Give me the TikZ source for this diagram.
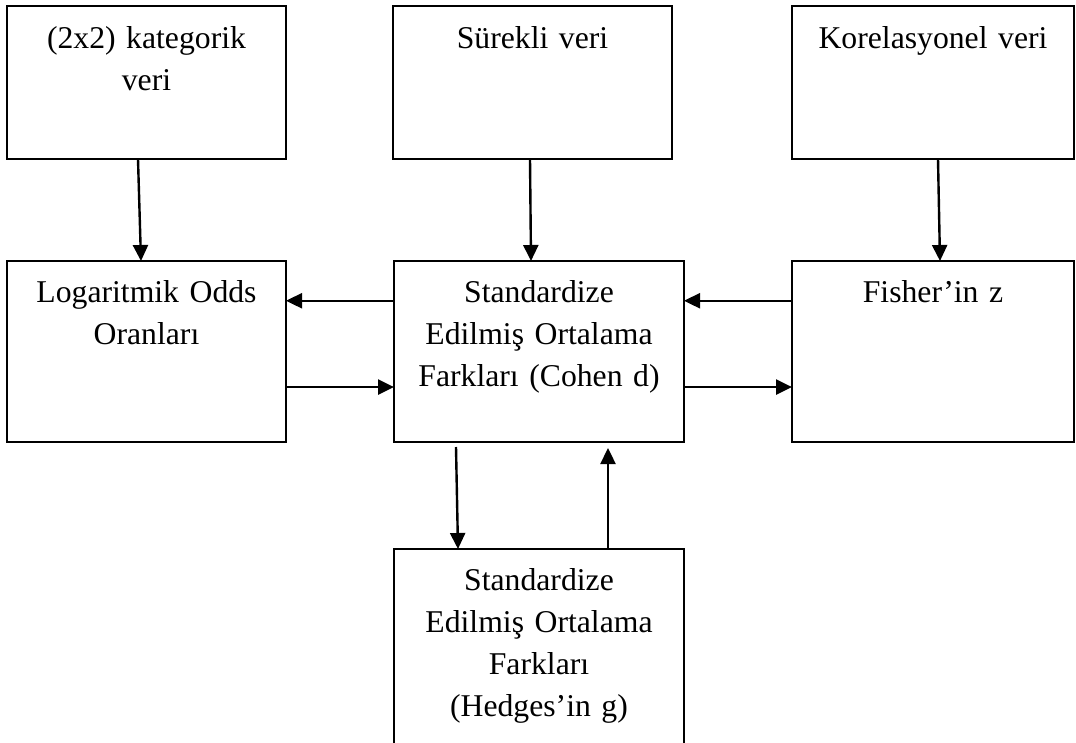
\documentclass[tikz,border=0pt]{standalone}
\usepackage{fontspec}
\setmainfont{Liberation Serif}
\usetikzlibrary{arrows.meta}
\tikzset{
  box/.style={draw=black, line width=2pt, rectangle, inner sep=0pt, outer sep=0pt, anchor=north west},
  txt/.style={anchor=base, align=center, inner sep=0pt, font=\fontsize{31.7}{42.3}\selectfont},
  conn/.style={line width=2.4pt, -{Triangle[length=16pt,width=15pt]}}
}
\begin{document}
\begin{tikzpicture}[x=1pt,y=-1pt]
\clip (0,0) rectangle (1076,742);
\useasboundingbox (0,0) rectangle (1076,742);
% boxes
\node[box, minimum width=279pt, minimum height=153pt] (b1) at (7,6) {};
\node[box, minimum width=279pt, minimum height=153pt] (b2) at (393,6) {};
\node[box, minimum width=282pt, minimum height=153pt] (b3) at (792,6) {};
\node[box, minimum width=279pt, minimum height=180.5pt] (b4) at (7,261) {};
\node[box, minimum width=290pt, minimum height=180.5pt] (b5) at (394,261) {};
\node[box, minimum width=282pt, minimum height=180.5pt] (b6) at (792,261) {};
\node[box, minimum width=290pt, minimum height=230pt] (b7) at (394,549) {};
% texts
\node[txt, text width=270pt] (t1) at ([yshift=-42pt]b1.north) {(2x2) kategorik\\veri};
\node[txt, text width=270pt] (t2) at ([yshift=-42pt]b2.north) {Sürekli veri};
\node[txt, text width=270pt] (t3) at ([yshift=-42pt]b3.north) {Korelasyonel veri};
\node[txt, text width=270pt] (t4) at ([yshift=-41pt]b4.north) {Logaritmik Odds\\Oranları};
\node[txt, text width=280pt] (t5) at ([yshift=-41pt]b5.north) {Standardize\\Edilmiş Ortalama\\Farkları (Cohen d)};
\node[txt, text width=270pt] (t6) at ([yshift=-41pt]b6.north) {Fisher’in z};
\node[txt, text width=280pt] (t7) at ([yshift=-41pt]b7.north) {Standardize\\Edilmiş Ortalama\\Farkları\\(Hedges’in g)};
% connectors
\draw[conn] ([xshift=-8.5pt]b1.south) -- ([xshift=-5.5pt]b4.north);
\draw[conn] ([xshift=-2.5pt]b2.south) -- ([xshift=-8pt]b5.north);
\draw[conn] ([xshift=5pt]b3.south) -- ([xshift=7pt]b6.north);
\draw[conn] ([yshift=50.5pt]b5.west) -- ([yshift=50.5pt]b4.east);
\draw[conn] ([yshift=-35.8pt]b4.east) -- ([yshift=-35.8pt]b5.west);
\draw[conn] ([yshift=50.5pt]b6.west) -- ([yshift=50.5pt]b5.east);
\draw[conn] ([yshift=-35.8pt]b5.east) -- ([yshift=-35.8pt]b6.west);
\draw[conn] ([xshift=-83pt,yshift=-5.5pt]b5.south) -- ([xshift=-81pt]b7.north);
\draw[conn] ([xshift=69pt]b7.north) -- ([xshift=69pt,yshift=-6.5pt]b5.south);
\end{tikzpicture}
\end{document}
